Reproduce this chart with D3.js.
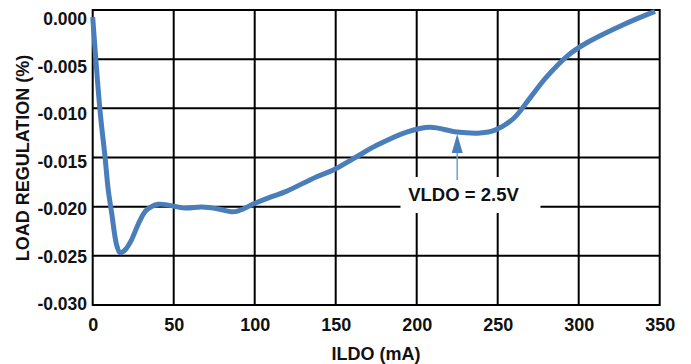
<!DOCTYPE html>
<html>
<head>
<meta charset="utf-8">
<script src="https://cdn.jsdelivr.net/npm/d3@7"></script>
<style>
    body { margin: 0; background: #fff; }
    text { font-family: "Liberation Sans", Arial, sans-serif; font-weight: bold; fill: #111; }
</style>
</head>
<body>
<div id="chart"></div>
<script>
// ILDO (mA) vs load regulation (%)
var ildo = [0, 4.5, 7.6, 9.6, 11.7, 14.8, 16.9, 20, 23.5, 29.2, 33.3, 40.5, 57, 67.3, 77.6, 85.8, 89.9,
    100.2, 110.5, 118.7, 138.3, 148.5, 160.9, 175.3, 193.8, 208.2, 224.7, 239.1, 248.3, 259.6, 270, 280.2,
    293.6, 305, 327.5, 347.1];
var loadReg = [0.0002, -0.0096, -0.0145, -0.0180, -0.0204, -0.0238, -0.0246, -0.0243, -0.0234, -0.0212, -0.0201,
    -0.0195, -0.0199, -0.0198, -0.0200, -0.0203, -0.0202, -0.0194, -0.0187, -0.0182, -0.0166, -0.0159,
    -0.0147, -0.0133, -0.0119, -0.0114, -0.0119, -0.0120, -0.0117, -0.0105, -0.0083, -0.0061, -0.0038,
    -0.0025, -0.0006, 0.0008];
var xTicks = [0, 50, 100, 150, 200, 250, 300, 350];
var yTicks = [0, -0.005, -0.010, -0.015, -0.020, -0.025, -0.030];
var noteText = "VLDO = 2.5V";
var noteAt = 225;  // mA where the arrow points

var width = 691, height = 364;

var svg = d3.select("#chart")
    .append("svg")
    .attr("width", width)
    .attr("height", height);

var x = d3.scaleLinear().domain([0, 350]).range([92.7, 659.7]);
// tick labels in the original sit a little off the grid lines
var y = d3.scaleLinear().domain([-0.030, 0]).range([304, 19]);
var yGrid = d3.scaleLinear().domain([-0.030, 0]).range([305, 10]);

// grid
svg.append("g").selectAll("line.h")
    .data(yTicks)
    .enter().append("line")
    .attr("x1", x(0)).attr("x2", x(350))
    .attr("y1", d => yGrid(d)).attr("y2", d => yGrid(d))
    .attr("stroke", "#000").attr("stroke-width", 2);

svg.append("g").selectAll("line.v")
    .data(xTicks)
    .enter().append("line")
    .attr("x1", d => x(d)).attr("x2", d => x(d))
    .attr("y1", yGrid(0) - 1).attr("y2", yGrid(-0.030) + 1)
    .attr("stroke", "#000").attr("stroke-width", 2);

// axis labels (plain hyphen, like the original)
var yAxis = svg.append("g")
    .attr("transform", "translate(" + (x(0) - 5.7) + ",0)")
    .call(d3.axisLeft(y).tickValues(yTicks).tickSize(0)
        .tickFormat(d => d3.format(".3f")(d).replace("\u2212", "-")));
yAxis.select(".domain").remove();
yAxis.selectAll("text")
    .attr("x", 0)
    .style("font-size", "17.5px")
    .style("font-family", "'Liberation Sans', Arial, sans-serif")
    .style("font-weight", "bold")
    .attr("fill", "#111");

var xAxis = svg.append("g")
    .attr("transform", "translate(0," + 318 + ")")
    .call(d3.axisBottom(x).tickValues(xTicks).tickSize(0).tickFormat(d3.format("d")));
xAxis.select(".domain").remove();
xAxis.selectAll("text")
    .attr("y", 0)
    .attr("dy", "0.71em")
    .style("font-size", "18px")
    .style("font-family", "'Liberation Sans', Arial, sans-serif")
    .style("font-weight", "bold")
    .attr("fill", "#111");

svg.append("text")
    .attr("x", 376)
    .attr("y", 360)
    .attr("text-anchor", "middle")
    .style("font-size", "18px")
    .text("ILDO (mA)");

svg.append("text")
    .attr("transform", "translate(29,158) rotate(-90)")
    .attr("text-anchor", "middle")
    .style("font-size", "18px")
    .text("LOAD REGULATION (%)");

// curve
var line = d3.line()
    .x(d => x(d[0]))
    .y(d => y(d[1]))
    .curve(d3.curveCatmullRom.alpha(0.5));

svg.append("path")
    .datum(d3.zip(ildo, loadReg))
    .attr("fill", "none")
    .attr("stroke", "#4a7ebb")
    .attr("stroke-width", 5)
    .attr("stroke-linejoin", "round")
    .attr("d", line);

// annotation
var ax = x(noteAt);
svg.append("rect")
    .attr("x", x(190)).attr("y", 177)
    .attr("width", x(276.4) - x(190)).attr("height", 36)
    .attr("fill", "#fff");

svg.append("line")
    .attr("x1", ax).attr("x2", ax)
    .attr("y1", 180).attr("y2", 150)
    .attr("stroke", "#6e9fd6").attr("stroke-width", 1.5);

svg.append("path")
    .attr("d", "M" + (ax - 5.5) + ",153L" + (ax + 5.5) + ",153L" + ax + ",134Z")
    .attr("fill", "#4a7ebb");

svg.append("text")
    .attr("x", 463.5)
    .attr("y", 201)
    .attr("text-anchor", "middle")
    .style("font-size", "18.5px")
    .text(noteText);
</script>
</body>
</html>
